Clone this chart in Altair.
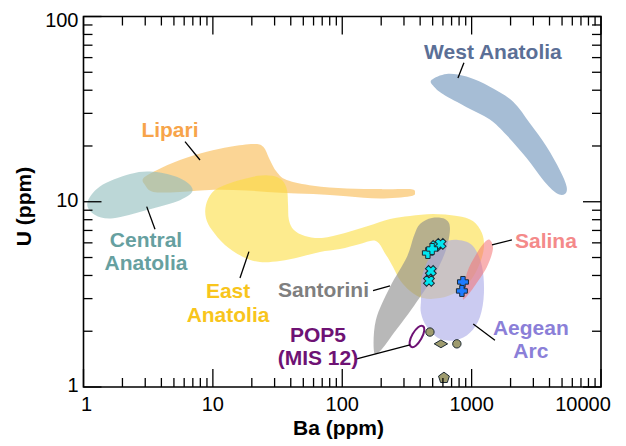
import altair as alt
import pandas as pd

# ---------------- data (Ba ppm, U ppm) ----------------
WEST_ANATOLIA_BA = [491, 641, 914, 1384, 2094, 2820, 3800, 4810, 5420, 5260, 4540, 3570, 2660, 1860, 1384, 914, 603, 505]
WEST_ANATOLIA_U = [45.5, 49.0, 47.4, 41.8, 34.7, 26.5, 19.8, 14.8, 12.1, 11.0, 11.1, 13.1, 17.2, 22.9, 27.8, 32.4, 38.0, 42.3]

LIPARI_BA = [2.90, 3.68, 5.57, 8.96, 13.6, 20.5, 24.5, 27.6, 31.1, 37.2, 59.7, 108, 196, 334, 365, 334, 196, 108, 59.7, 33.0, 18.2, 10.1, 5.57, 3.46, 2.99]
LIPARI_U = [13.4, 14.8, 16.8, 18.6, 19.8, 20.5, 19.8, 16.8, 14.5, 13.1, 12.2, 11.8, 11.7, 11.7, 11.2, 10.7, 10.4, 10.7, 11.0, 11.2, 11.5, 11.6, 11.3, 11.3, 12.3]

CENTRAL_ANATOLIA_BA = [1.07, 1.34, 2.29, 3.46, 5.57, 6.98, 5.57, 3.08, 1.70, 1.23]
CENTRAL_ANATOLIA_U = [9.82, 12.1, 14.1, 14.5, 13.4, 11.6, 10.2, 9.03, 8.15, 8.49]

EAST_ANATOLIA_BA = [8.84, 9.84, 12.0, 16.2, 22.3, 28.6, 34.2, 37.4, 38.1, 38.7, 42.3, 51.5, 69.7, 105, 158, 234, 334,
                    502, 770, 1023, 1201, 1245, 1160, 988, 770, 569, 420, 334, 279, 247, 218, 182, 137, 96.0, 67.3,
                    47.1, 33.0, 23.1, 17.1, 12.4, 9.84, 8.84]
EAST_ANATOLIA_U = [9.61, 11.2, 12.2, 13.1, 13.8, 13.8, 13.1, 11.6, 9.61, 7.98, 7.04, 6.54, 6.38, 6.79, 7.40, 8.07, 8.38,
                   8.59, 8.38, 7.88, 6.79, 5.70, 4.67, 3.78, 3.26, 3.02, 3.02, 3.30, 3.78, 4.45, 5.16, 6.14, 5.92, 5.56,
                   5.36, 5.04, 4.79, 4.73, 5.04, 5.85, 7.04, 8.18]

SANTORINI_BA = [176, 182, 234, 316, 358, 399, 493, 622, 680, 633, 511, 358, 251, 199]
SANTORINI_U = [1.55, 2.30, 3.47, 5.04, 6.54, 7.59, 8.18, 8.07, 7.22, 5.49, 3.98, 2.74, 1.96, 1.58]

AEGEAN_BA = [406, 413, 476, 600, 784, 1023, 1201, 1245, 1160, 970, 756, 569, 451, 406]
AEGEAN_U = [2.95, 3.93, 5.04, 5.99, 6.22, 5.77, 4.50, 3.22, 2.39, 1.96, 1.79, 1.82, 2.11, 2.51]

SALINA_BA = [857, 920, 1099, 1267, 1385, 1461, 1313, 1042, 889]
SALINA_U = [3.06, 4.13, 5.29, 6.07, 6.22, 5.56, 4.45, 3.47, 3.02]

POP5_BA = [420, 430, 408, 370, 340, 332, 350, 386]
POP5_U = [2.13, 2.01, 1.82, 1.67, 1.65, 1.75, 1.93, 2.10]

CYAN_PLUS_BA = [459, 495]
CYAN_PLUS_U = [5.29, 5.56]
CYAN_X_BA = [525, 575, 484, 468]
CYAN_X_U = [5.77, 5.92, 4.23, 3.74]
BLUE_PLUS_BA = [857, 841]
BLUE_PLUS_U = [3.69, 3.30]
OLIVE_CIRCLE_BA = [476, 769]
OLIVE_CIRCLE_U = [1.98, 1.71]
OLIVE_DIAMOND_BA = [579]
OLIVE_DIAMOND_U = [1.71]
OLIVE_PENTAGON_BA = [611]
OLIVE_PENTAGON_U = [1.12]

LABEL_TEXT = ["West Anatolia", "Lipari", "Central", "Anatolia", "East", "Anatolia", "Santorini",
              "Salina", "Aegean", "Arc", "POP5", "(MIS 12)"]
LABEL_GROUP = ["West Anatolia", "Lipari", "Central Anatolia", "Central Anatolia", "East Anatolia",
               "East Anatolia", "Santorini", "Salina", "Aegean Arc", "Aegean Arc", "POP5", "POP5"]
LABEL_BA = [1461, 4.66, 3.04, 3.04, 13.1, 13.1, 71.6, 3750, 2870, 2870, 64.9, 64.9]
LABEL_U = [63.6, 24.1, 6.14, 4.62, 3.26, 2.42, 3.30, 6.07, 2.06, 1.55, 1.89, 1.42]

LEADER_BA1 = [872, 6.09, 3.08, 19.0, 173, 1436, 1029, 125]
LEADER_U1 = [56.2, 21.1, 9.41, 5.38, 3.31, 5.85, 2.19, 1.41]
LEADER_BA2 = [784, 7.95, 3.57, 16.2, 234, 2048, 1514, 334]
LEADER_U2 = [46.6, 16.8, 7.11, 3.88, 3.51, 6.22, 1.79, 1.69]

X_MAJOR = [1, 10, 100, 1000, 10000]
X_MINOR = [m * 10 ** e for e in range(4) for m in range(2, 10)]
Y_MAJOR = [1, 10, 100]
Y_MINOR = [m * 10 ** e for e in range(2) for m in range(2, 10)]

X_LABELS_FIRST = [1]
X_LABELS_MID = [10, 100, 1000]
X_LABELS_LAST = [10000]
Y_LABELS_LOW = [1, 10]
Y_LABELS_TOP = [100]

X_TITLE = "Ba (ppm)"
Y_TITLE = "U (ppm)"

GROUPS = ["West Anatolia", "Lipari", "Central Anatolia", "East Anatolia", "Santorini", "Salina", "Aegean Arc", "POP5"]
TEXT_COLORS = ["#5b6f96", "#f7a44a", "#66a0a0", "#f8c51c", "#7f7f7f", "#f48a8a", "#8b7fd8", "#6e1274"]

# ---------------- layout ----------------
W = 517.5
H = 370.5
FONT = "Liberation Sans"
MAJ = 18
MIN = 9
LABEL_SIZE = 20

xscale = alt.Scale(type="log", domain=[1, 10000], nice=False)
yscale = alt.Scale(type="log", domain=[1, 100], nice=False)


def X(field="Ba:Q"):
    return alt.X(field, scale=xscale, axis=None)


def Y(field="U:Q"):
    return alt.Y(field, scale=yscale, axis=None)


def poly(ba, u, color, opacity):
    df = pd.DataFrame({"Ba": ba, "U": u, "i": list(range(len(ba)))})
    return alt.Chart(df).mark_line(
        interpolate="cardinal-closed", fill=color, fillOpacity=opacity,
        strokeWidth=0, strokeOpacity=0
    ).encode(x=X(), y=Y(), order=alt.Order("i:Q"))


def pts(ba, u, shape, fill, size, stroke="#1d2a33", angle=0):
    df = pd.DataFrame({"Ba": ba, "U": u})
    return alt.Chart(df).mark_point(
        shape=shape, filled=True, fill=fill, fillOpacity=1, stroke=stroke,
        strokeWidth=1, size=size, angle=angle, opacity=1
    ).encode(x=X(), y=Y())


def xticks(vals, y0, y1):
    df = pd.DataFrame({"Ba": vals})
    return alt.Chart(df).mark_rule(color="black", strokeWidth=1.3).encode(
        x=X(), y=alt.value(y0), y2=alt.value(y1)
    )


def yticks(vals, x0, x1):
    df = pd.DataFrame({"U": vals})
    return alt.Chart(df).mark_rule(color="black", strokeWidth=1.3).encode(
        y=Y(), x=alt.value(x0), x2=alt.value(x1)
    )


def xlabels(vals, dx):
    df = pd.DataFrame({"Ba": vals, "lbl": [str(v) for v in vals]})
    return alt.Chart(df).mark_text(
        font=FONT, fontSize=LABEL_SIZE, color="black", align="center", baseline="top", dx=dx, dy=8
    ).encode(x=X(), y=alt.value(H), text="lbl:N")


def ylabels(vals, dy):
    df = pd.DataFrame({"U": vals, "lbl": [str(v) for v in vals]})
    return alt.Chart(df).mark_text(
        font=FONT, fontSize=LABEL_SIZE, color="black", align="right", baseline="middle", dx=-5, dy=dy
    ).encode(y=Y(), x=alt.value(0), text="lbl:N")


layers = [
    poly(WEST_ANATOLIA_BA, WEST_ANATOLIA_U, "#a6bdd5", 1.0),
    poly(LIPARI_BA, LIPARI_U, "#f9b94f", 0.6),
    poly(CENTRAL_ANATOLIA_BA, CENTRAL_ANATOLIA_U, "#8fbcbc", 0.6),
    poly(EAST_ANATOLIA_BA, EAST_ANATOLIA_U, "#fcdc3c", 0.58),
    poly(SANTORINI_BA, SANTORINI_U, "#8c8c8c", 0.62),
    poly(AEGEAN_BA, AEGEAN_U, "#a8a8e8", 0.6),
    poly(SALINA_BA, SALINA_U, "#f47272", 0.55),
]

pop5_df = pd.DataFrame({"Ba": POP5_BA, "U": POP5_U, "i": list(range(len(POP5_BA)))})
layers.append(
    alt.Chart(pop5_df).mark_line(
        interpolate="cardinal-closed", fill="white", stroke="#6e1274", strokeWidth=2
    ).encode(x=X(), y=Y(), order=alt.Order("i:Q"))
)

lead_df = pd.DataFrame({"Ba": LEADER_BA1, "U": LEADER_U1, "Ba2": LEADER_BA2, "U2": LEADER_U2})
layers.append(
    alt.Chart(lead_df).mark_rule(color="black", strokeWidth=1.3).encode(
        x=X(), y=Y(), x2="Ba2:Q", y2="U2:Q",
    )
)

layers += [
    pts(OLIVE_CIRCLE_BA, OLIVE_CIRCLE_U, "circle", "#9e9b6e", 70),
    pts(OLIVE_DIAMOND_BA, OLIVE_DIAMOND_U, "M-1,0L0,-0.58L1,0L0,0.58Z", "#9e9b6e", 180),
    pts(OLIVE_PENTAGON_BA, OLIVE_PENTAGON_U, "M0,-1L0.95,-0.31L0.59,0.81L-0.59,0.81L-0.95,-0.31Z", "#9e9b6e", 130),
    pts(CYAN_X_BA, CYAN_X_U, "cross", "#00e6f0", 120, angle=45),
    pts(CYAN_PLUS_BA, CYAN_PLUS_U, "cross", "#00e6f0", 120),
    pts(BLUE_PLUS_BA, BLUE_PLUS_U, "cross", "#1f7bff", 120),
]

lab_df = pd.DataFrame({"text": LABEL_TEXT, "group": LABEL_GROUP, "Ba": LABEL_BA, "U": LABEL_U})
layers.append(
    alt.Chart(lab_df).mark_text(
        font=FONT, fontSize=21, fontWeight="bold", align="center", baseline="middle"
    ).encode(
        x=X(), y=Y(), text="text:N",
        color=alt.Color("group:N", scale=alt.Scale(domain=GROUPS, range=TEXT_COLORS), legend=None),
    )
)

# tick labels
layers += [
    xlabels(X_LABELS_FIRST, 3),
    xlabels(X_LABELS_MID, 0),
    xlabels(X_LABELS_LAST, -18),
    ylabels(Y_LABELS_LOW, -1),
    ylabels(Y_LABELS_TOP, 4),
]

# axis titles
layers.append(
    alt.Chart(pd.DataFrame({"t": [X_TITLE]})).mark_text(
        font=FONT, fontSize=21, fontWeight="bold", color="black", align="center", baseline="middle"
    ).encode(x=alt.value(255), y=alt.value(H + 42), text="t:N")
)
layers.append(
    alt.Chart(pd.DataFrame({"t": [Y_TITLE]})).mark_text(
        font=FONT, fontSize=21, fontWeight="bold", color="black", align="center", baseline="middle", angle=270
    ).encode(x=alt.value(-59), y=alt.value(190), text="t:N")
)

# ticks (inward, on all four sides)
layers += [
    xticks(X_MAJOR, H, H - MAJ),
    xticks(X_MINOR, H, H - MIN),
    xticks(X_MAJOR, 0, MAJ),
    xticks(X_MINOR, 0, MIN),
    yticks(Y_MAJOR, 0, MAJ),
    yticks(Y_MINOR, 0, MIN),
    yticks(Y_MAJOR, W, W - MAJ),
    yticks(Y_MINOR, W, W - MIN),
]

# plot frame
layers.append(
    alt.Chart(pd.DataFrame({"f": [0]})).mark_rect(
        filled=False, stroke="black", strokeWidth=1.6, fillOpacity=0
    ).encode(x=alt.value(0), x2=alt.value(W), y=alt.value(0), y2=alt.value(H))
)

chart = alt.layer(*layers).properties(
    width=W, height=H,
    background="white",
    autosize=alt.AutoSizeParams(type="none"),
    padding={"left": 75.5, "top": 8.5, "right": 16.5, "bottom": 60},
).configure_view(stroke=None, strokeWidth=0)

chart.save("out.html", embed_options={"renderer": "svg", "actions": False})
